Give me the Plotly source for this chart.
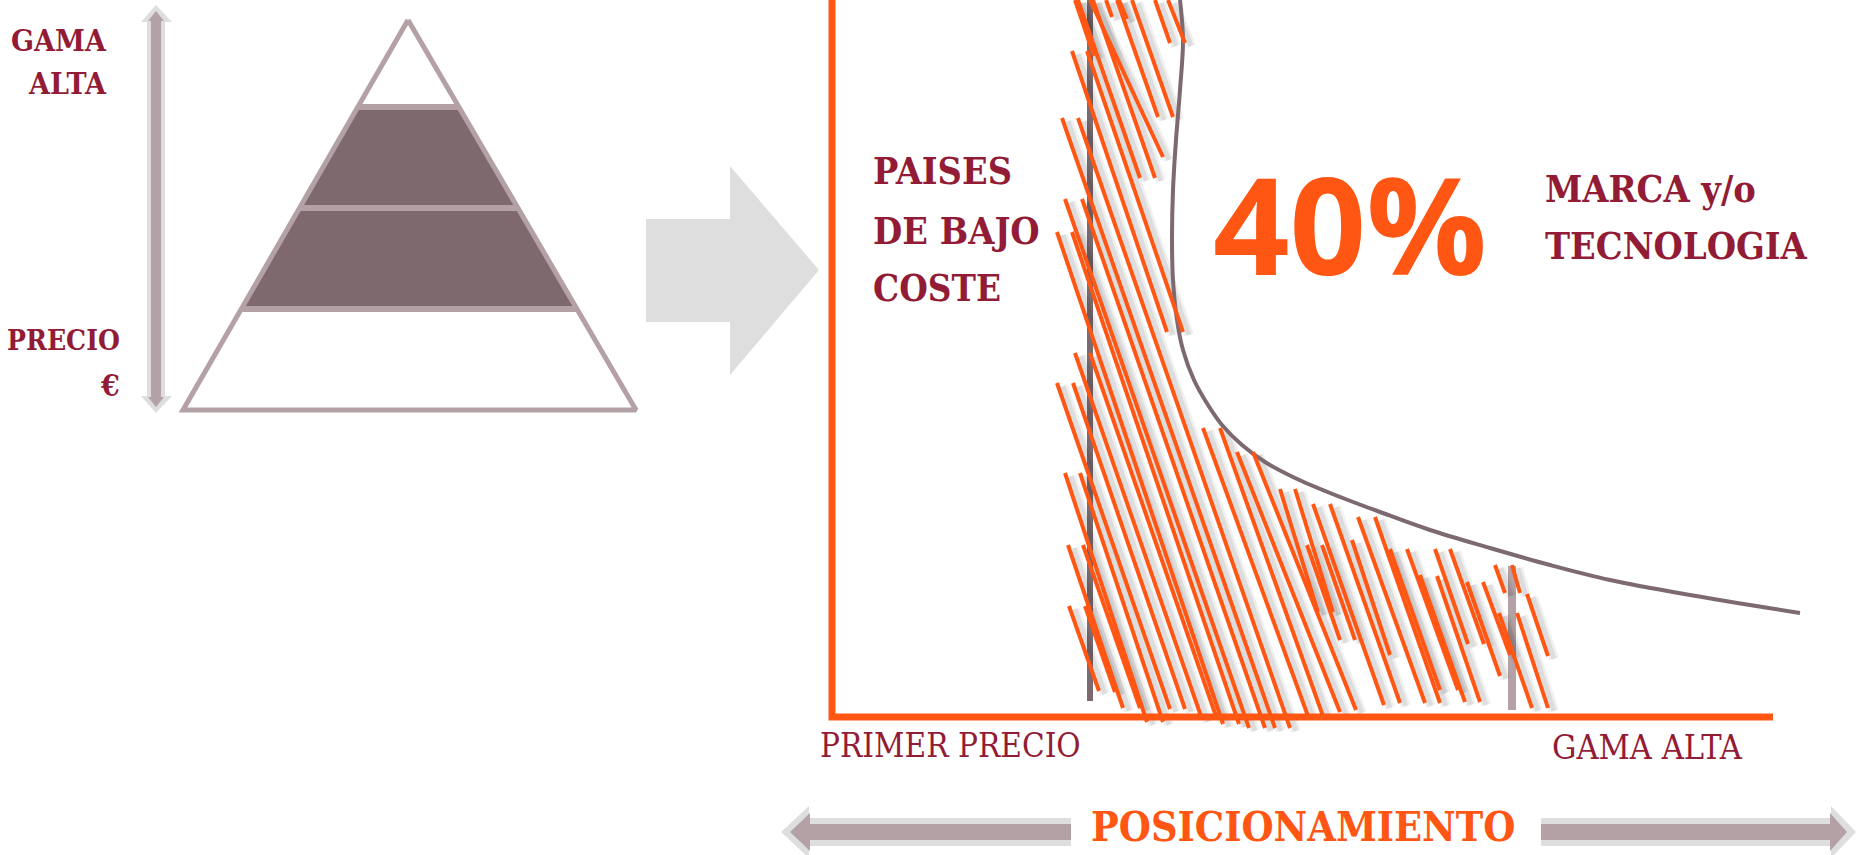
import plotly.graph_objects as go

# ---------------- data (drawing space = the 1856 x 855 canvas) ----------------
CANVAS_W, CANVAS_H = 1856, 855

pyramid_x = [408, 636, 183]
pyramid_y = [20, 410, 410]
band_levels = [107, 208, 309]

vert_arrow_outer_x = [156, 172, 165, 165, 172, 156, 141, 147, 147, 141]
vert_arrow_outer_y = [5, 22, 22, 396, 396, 413, 396, 396, 22, 22]
vert_arrow_inner_x = [156, 164, 161, 161, 164, 156, 148, 151, 151, 148]
vert_arrow_inner_y = [11, 21, 21, 397, 397, 407, 397, 397, 21, 21]

big_arrow_x = [646, 730, 730, 819, 730, 730, 646]
big_arrow_y = [219, 219, 166, 270, 375, 322, 322]

pos_left_outer_x = [781, 809, 809, 1071, 1071, 809, 809]
pos_left_outer_y = [832, 806, 818, 818, 846, 846, 858]
pos_left_inner_x = [790, 810, 810, 1071, 1071, 810, 810]
pos_left_inner_y = [832, 813, 824, 824, 840, 840, 851]
pos_right_outer_x = [1856, 1831, 1831, 1541, 1541, 1831, 1831]
pos_right_outer_y = [832, 806, 818, 818, 846, 846, 858]
pos_right_inner_x = [1847, 1830, 1830, 1541, 1541, 1830, 1830]
pos_right_inner_y = [832, 813, 824, 824, 840, 840, 851]

axis_x = [832, 832, 1773]
axis_y = [0, 717, 717]

low_line_x = [1090, 1090]
low_line_y = [0, 701]
high_line_x = [1512, 1512]
high_line_y = [566, 710]

curve_x = [1180, 1183, 1180, 1176, 1173, 1172, 1173, 1177, 1183, 1194, 1208, 1222,
           1242, 1265, 1295, 1335, 1380, 1430, 1490, 1550, 1610, 1690, 1800]
curve_y = [0, 40, 90, 140, 190, 240, 280, 320, 350, 380, 405, 425,
           445, 462, 478, 495, 512, 530, 548, 565, 580, 595, 613]

hatch_x0 = [1075, 1090, 1106, 1119, 1117, 1132, 1155, 1168, 1078, 1093, 1072, 1087,
            1062, 1078, 1065, 1082, 1057, 1072, 1075, 1090, 1057, 1073, 1065, 1080,
            1068, 1083, 1069, 1085,
            1203, 1220, 1237, 1253, 1280, 1295, 1313, 1330, 1358, 1375, 1307, 1322,
            1352, 1390, 1407, 1435, 1450, 1420, 1437, 1467, 1483, 1495, 1512, 1527,
            1499, 1517]
hatch_y0 = [0, 0, 0, 0, 0, 0, 0, 0, 0, 0, 51, 51,
            118, 118, 199, 199, 232, 232, 353, 353, 383, 383, 473, 473,
            545, 545, 606, 606,
            428, 428, 452, 452, 489, 489, 504, 504, 517, 517, 545, 545,
            540, 549, 549, 549, 549, 575, 576, 582, 582, 565, 565, 594,
            613, 613]
hatch_x1 = [1094, 1163, 1112, 1127, 1158, 1173, 1170, 1185, 1140, 1155, 1167, 1183,
            1275, 1290, 1249, 1265, 1223, 1239, 1202, 1217, 1170, 1185, 1147, 1163,
            1123, 1140, 1099, 1115,
            1308, 1323, 1340, 1356, 1318, 1333, 1384, 1400, 1425, 1440, 1340, 1355,
            1390, 1440, 1458, 1468, 1484, 1465, 1480, 1500, 1510, 1505, 1520, 1548,
            1532, 1548]
hatch_y1 = [56, 157, 17, 19, 117, 117, 43, 43, 178, 178, 332, 332,
            728, 728, 728, 728, 724, 724, 719, 719, 709, 709, 722, 722,
            708, 708, 691, 692,
            716, 716, 712, 710, 612, 612, 705, 703, 703, 703, 640, 640,
            655, 690, 690, 644, 644, 702, 702, 676, 655, 593, 593, 656,
            708, 708]

label_top = ["GAMA", "ALTA"]
label_price = ["PRECIO", "€"]
label_low = ["PAISES", "DE BAJO", "COSTE"]
label_high = ["MARCA y/o", "TECNOLOGIA"]
label_share = "40%"
label_x_left = "PRIMER PRECIO"
label_x_right = "GAMA ALTA"
label_axis = "POSICIONAMIENTO"

# ---------------- styles ----------------
ORANGE = "#FF5614"
WINE = "#921C36"
MAUVE_DARK = "#7E696F"
MAUVE_LIGHT = "#B3A1A5"
LIGHT_GREY = "#DEDEDE"
SLAB = "DejaVu Serif Condensed, DejaVu Serif, serif"

fig = go.Figure()


def poly(xs, ys, color):
    fig.add_trace(go.Scatter(x=xs + [xs[0]], y=ys + [ys[0]], mode="lines", fill="toself",
                             fillcolor=color, line=dict(width=0, color=color),
                             hoverinfo="skip", showlegend=False))


def line(xs, ys, color, width, shape="linear"):
    fig.add_trace(go.Scatter(x=xs, y=ys, mode="lines",
                             line=dict(color=color, width=width, shape=shape, smoothing=1.0),
                             hoverinfo="skip", showlegend=False))


ax_, bx_, cx_ = pyramid_x
ay_, by_, cy_ = pyramid_y


def left_x(y):
    return ax_ + (cx_ - ax_) * (y - ay_) / (cy_ - ay_)


def right_x(y):
    return ax_ + (bx_ - ax_) * (y - ay_) / (by_ - ay_)


t, b = band_levels[0], band_levels[-1]
poly([left_x(t), right_x(t), right_x(b), left_x(b)], [t, t, b, b], MAUVE_DARK)
for lv in band_levels:
    line([left_x(lv), right_x(lv)], [lv, lv], MAUVE_LIGHT, 6)
line(pyramid_x + [pyramid_x[0]], pyramid_y + [pyramid_y[0]], MAUVE_LIGHT, 5)

poly(vert_arrow_outer_x, vert_arrow_outer_y, LIGHT_GREY)
poly(vert_arrow_inner_x, vert_arrow_inner_y, MAUVE_LIGHT)
poly(big_arrow_x, big_arrow_y, LIGHT_GREY)
poly(pos_left_outer_x, pos_left_outer_y, LIGHT_GREY)
poly(pos_left_inner_x, pos_left_inner_y, MAUVE_LIGHT)
poly(pos_right_outer_x, pos_right_outer_y, LIGHT_GREY)
poly(pos_right_inner_x, pos_right_inner_y, MAUVE_LIGHT)

line(low_line_x, low_line_y, "#7B6A70", 6)
line(high_line_x, high_line_y, MAUVE_LIGHT, 8)

sx, sy, hx, hy = [], [], [], []
for x0, y0, x1, y1 in zip(hatch_x0, hatch_y0, hatch_x1, hatch_y1):
    sx += [x0 + 6, x1 + 6, None]
    sy += [y0 + 3, y1 + 3, None]
    hx += [x0, x1, None]
    hy += [y0, y1, None]
fig.add_trace(go.Scatter(x=sx, y=sy, mode="lines", line=dict(color="rgba(0,0,0,0.06)", width=10),
                         hoverinfo="skip", showlegend=False))
fig.add_trace(go.Scatter(x=sx, y=sy, mode="lines", line=dict(color="rgba(0,0,0,0.08)", width=5),
                         hoverinfo="skip", showlegend=False))

line(curve_x, curve_y, "#7D6A71", 4, "spline")

fig.add_trace(go.Scatter(x=hx, y=hy, mode="lines", line=dict(color=ORANGE, width=4),
                         hoverinfo="skip", showlegend=False))

line(axis_x, axis_y, ORANGE, 7)

annotations = []


def text(s, x, y, size, color, family=SLAB, anchor="left", weight=700):
    annotations.append(dict(text=s, x=x, y=y, xref="x", yref="y", showarrow=False,
                            xanchor=anchor, yanchor="middle",
                            font=dict(family=family, size=size, color=color, weight=weight)))


text(label_top[0], 109, 40, 30, WINE, anchor="right")
text(label_top[1], 109, 83, 30, WINE, anchor="right")
text(label_price[0], 122, 340, 28, WINE, anchor="right")
text(label_price[1], 122, 385, 30, WINE, anchor="right")
for s, yc, fs in zip(label_low, [171, 231, 288], [37.5, 37.5, 36.5]):
    text(s, 871, yc, fs, WINE)
text(label_high[0], 1543, 189, 37.5, WINE)
text(label_high[1], 1543, 246, 37.5, WINE)
text(label_share, 1350, 223, 134, ORANGE, "Open Sans", "center")
text(label_x_left, 818, 745, 33, WINE, anchor="left", weight=400)
text(label_x_right, 1550, 747, 34, WINE, anchor="left", weight=400)
text(label_axis, 1303, 827, 41, ORANGE, anchor="center")

fig.update_layout(
    width=CANVAS_W, height=CANVAS_H,
    margin=dict(l=0, r=0, t=0, b=0),
    paper_bgcolor="white", plot_bgcolor="white",
    xaxis=dict(range=[0, CANVAS_W], visible=False, fixedrange=True),
    yaxis=dict(range=[CANVAS_H, 0], visible=False, fixedrange=True),
    annotations=annotations,
    showlegend=False,
)

fig.write_html("out.html", config={"displayModeBar": False},
               post_script="document.body.style.margin='0';")
